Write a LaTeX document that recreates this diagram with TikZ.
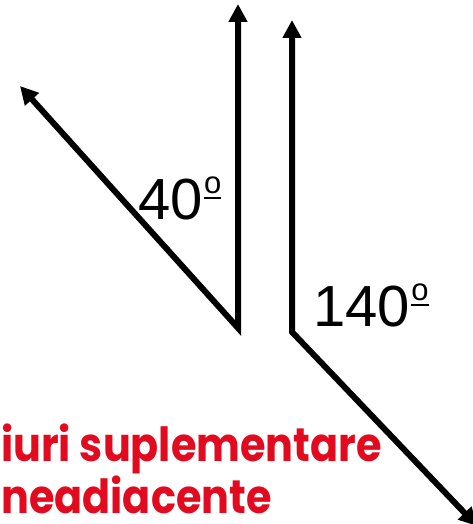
\documentclass[tikz,border=0pt]{standalone}
\usepackage{fontspec}
\usepackage{graphicx}
\setmainfont{Liberation Sans}
\newfontfamily\redfont{Poppins}[UprightFont=* Bold]
\usetikzlibrary{arrows.meta}
\definecolor{redtxt}{RGB}{226,10,30}
\newcommand{\ordm}{\kern1.5pt\raisebox{21pt}{\fontsize{31}{31}\selectfont\vbox{\hbox{o}\kern2.5pt\hrule height 2.2pt}}}
\begin{document}
\begin{tikzpicture}[x=1pt,y=1pt,
  ray/.style={line width=6pt,line join=miter,{Triangle[length=18pt,width=18pt]}-{Triangle[length=18pt,width=18pt]}},
  deg/.style={inner sep=0pt,anchor=base west,font=\fontsize{58}{62}\selectfont},
  redlabel/.style={inner sep=0pt,anchor=base west,text=redtxt,font=\redfont\fontsize{47}{50}\selectfont}]
\useasboundingbox (0,0) rectangle (473,524);
\coordinate (A) at (238,196);
\coordinate (Aup) at (238,520);
\coordinate (Adiag) at (20,438);
\coordinate (B) at (292,192);
\coordinate (Bup) at (292,504);
\coordinate (Bdiag) at (477,-2);
\draw[ray] (Aup) -- (A) -- (Adiag);
\draw[ray] (Bup) -- (B) -- (Bdiag);
\node[deg] (l40) at (138,304) {40\ordm};
\node[deg] (l140) at (313,197) {140\ordm};
\node[redlabel] (t1) at (1,62) {\scalebox{0.88}[1]{iuri suplementare}};
\node[redlabel] (t2) at (1,10) {\scalebox{0.88}[1]{neadiacente}};
\end{tikzpicture}
\end{document}
